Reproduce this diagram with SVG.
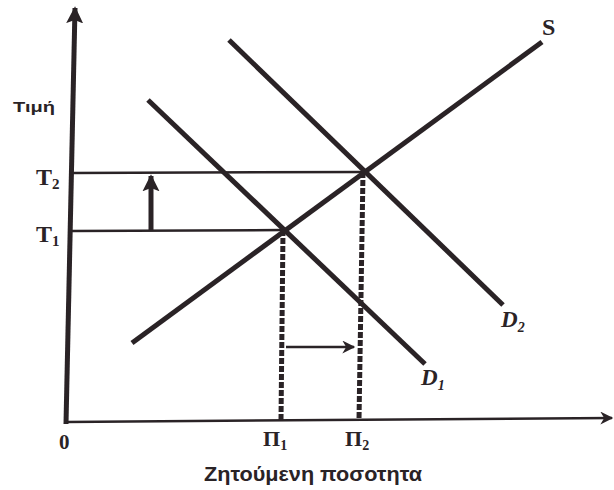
<svg xmlns="http://www.w3.org/2000/svg" width="614" height="490" viewBox="0 0 614 490">
<style>
.ln{stroke:#2a2326;fill:none;stroke-linecap:butt}
.thin{stroke-width:2.5}
.thick{stroke-width:5}
.dash{stroke-width:5;stroke-dasharray:6 2}
.lbl{font-family:"Liberation Serif",serif;font-weight:bold;fill:#2a2326}
.sans{font-family:"Liberation Sans",Arial,sans-serif;font-weight:bold;fill:#2a2326}
</style>
<defs>
<marker id="ah" viewBox="0 0 10 10" refX="9" refY="5" markerWidth="17" markerHeight="20" orient="auto" markerUnits="userSpaceOnUse">
<path d="M0,0 L10,5 L0,10 L2,5 Z" fill="#2a2326"/>
</marker>
<marker id="ah2" viewBox="0 0 10 10" refX="9" refY="5" markerWidth="14" markerHeight="13" orient="auto" markerUnits="userSpaceOnUse">
<path d="M0,0 L10,5 L0,10 L3,5 Z" fill="#2a2326"/>
</marker>
</defs>
<rect width="614" height="490" fill="#fff"/>
<g id="connectors">
<line class="ln thick" x1="66" y1="424" x2="75" y2="8" marker-end="url(#ah)"/>
<line class="ln thin" x1="66" y1="422" x2="612" y2="418" marker-end="url(#ah2)"/>
<line class="ln thin" x1="72" y1="173" x2="363" y2="172"/>
<line class="ln thin" x1="72" y1="231" x2="283" y2="230"/>
<line class="ln dash" x1="283" y1="230" x2="281" y2="420"/>
<line class="ln dash" x1="363" y1="172" x2="359" y2="420"/>
<line class="ln thick" x1="151" y1="231" x2="151" y2="176" marker-end="url(#ah)"/>
<line class="ln thin" x1="286" y1="347" x2="354" y2="347" marker-end="url(#ah2)"/>
</g>
<g id="S"><line class="ln thick" x1="132" y1="343" x2="542" y2="42"/><text class="lbl" x="542" y="35" font-size="24">S</text></g>
<g id="D1"><line class="ln thick" x1="148" y1="100" x2="425" y2="364"/><text class="lbl" x="421" y="385" font-size="23" font-style="italic">D<tspan font-size="14" dy="5">1</tspan></text></g>
<g id="D2"><line class="ln thick" x1="229" y1="40" x2="503" y2="305"/><text class="lbl" x="501" y="327" font-size="23" font-style="italic">D<tspan font-size="14" dy="5">2</tspan></text></g>
<g id="axis-labels">
<text class="sans" x="13" y="112" font-size="15" textLength="42" lengthAdjust="spacingAndGlyphs">Τιμή</text>
<text class="lbl" x="36" y="185" font-size="24">T<tspan font-size="15" dy="4">2</tspan></text>
<text class="lbl" x="36" y="242" font-size="24">T<tspan font-size="15" dy="4">1</tspan></text>
<text class="lbl" x="59" y="449" font-size="21">0</text>
<text class="lbl" x="263" y="446" font-size="22">Π<tspan font-size="14" dy="4">1</tspan></text>
<text class="lbl" x="345" y="446" font-size="22">Π<tspan font-size="14" dy="4">2</tspan></text>
<text class="sans" x="204" y="481" font-size="20" textLength="218" lengthAdjust="spacingAndGlyphs">Ζητούμενη ποσοτητα</text>
</g>
</svg>
